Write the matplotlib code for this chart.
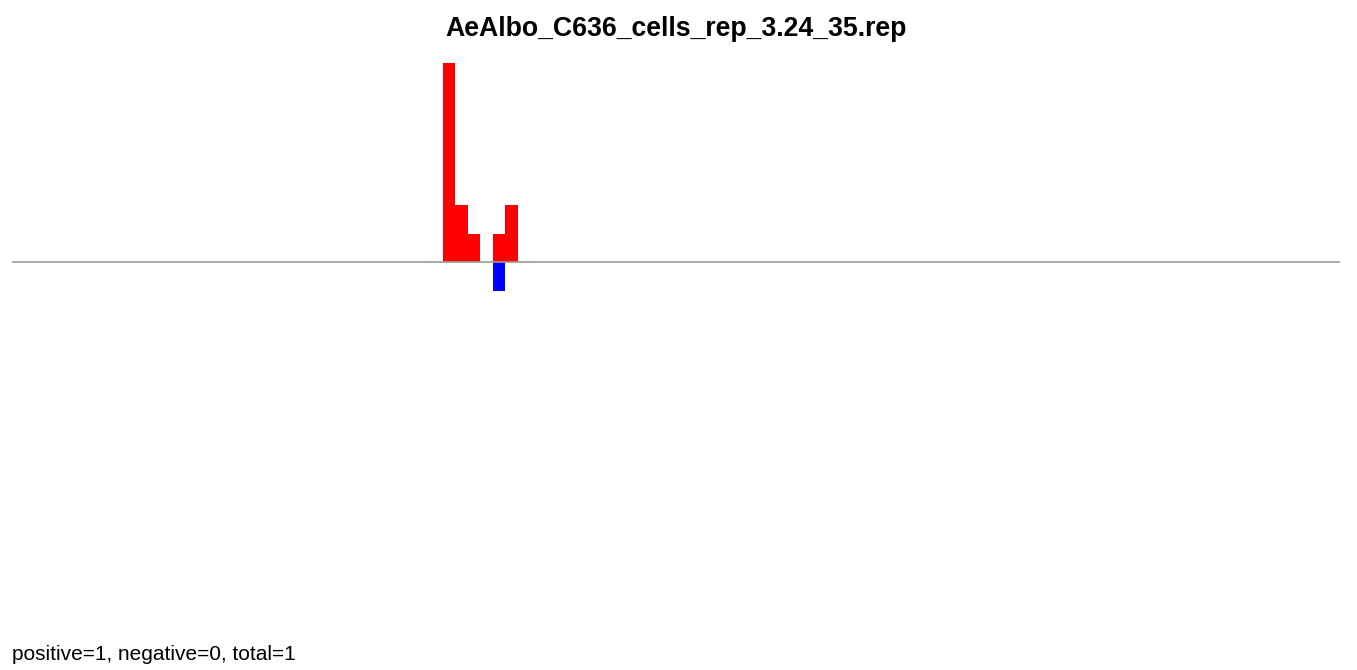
import numpy as np
import matplotlib.pyplot as plt

plt.rcParams['font.family'] = ['Liberation Sans', 'DejaVu Sans']

# bin index and counts
title = 'AeAlbo_C636_cells_rep_3.24_35.rep'
pos_bins = [34, 35, 36, 38, 39]
pos_counts = [7, 2, 1, 1, 2]
neg_bins = [38]
neg_counts = [1]
summary = 'positive=1, negative=0, total=1'

fig = plt.figure(figsize=(13.57, 6.70), dpi=100)
# axes placed in pixel terms: x 12..1340, y 50..630 (from top)
W, H = 1357, 670
ax = fig.add_axes([12 / W, 1 - 630 / H, 1328 / W, 580 / H])

ax.bar(pos_bins, pos_counts, width=1.0, align='edge', color='#ff0000', linewidth=0)
ax.bar(neg_bins, [-c for c in neg_counts], width=1.0, align='edge', color='#0000ff', linewidth=0)
ax.axhline(0, color='#999999', linewidth=1.2, zorder=3)

ax.set_xlim(-0.44, -0.44 + 1328 / 12.5)
ax.set_ylim(-(630 - 262) / 28.5, (262 - 50) / 28.5)
ax.set_axis_off()

fig.text(676 / W, 1 - 29 / H, title, ha='center', va='center', fontsize=19.2, fontweight='bold')
fig.text(12 / W, 1 - 654 / H, summary, ha='left', va='center', fontsize=15)

plt.savefig('out.png', dpi=100)
